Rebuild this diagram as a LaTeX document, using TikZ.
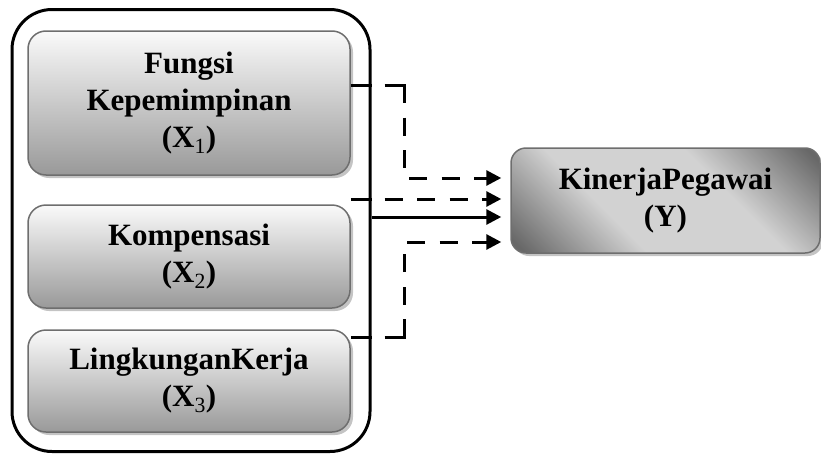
\documentclass[tikz,border=0pt]{standalone}
\usepackage{fontspec}
\setmainfont{Liberation Serif}
\usetikzlibrary{arrows.meta,calc,shadows}
\definecolor{boxborder}{HTML}{6E6E6E}
\definecolor{boxtop}{HTML}{FAFAFA}
\definecolor{boxbot}{HTML}{999999}
\definecolor{ydark}{HTML}{686868}
\definecolor{ylight}{HTML}{D2D2D2}
\definecolor{shadowgray}{HTML}{C4C4C4}
\pgfdeclareverticalshading{yshade}{100bp}{color(0bp)=(ydark); color(17bp)=(ydark); color(38bp)=(ylight); color(62bp)=(ylight); color(83bp)=(ydark); color(100bp)=(ydark)}
\newcommand{\subidx}[1]{\textsubscript{\mdseries #1}}
\begin{document}
\begin{tikzpicture}[x=1pt,y=-1pt,
  boxfont/.style={font=\fontsize{31}{37}\selectfont\bfseries},
  xbox/.style={draw=boxborder, line width=1.5pt, rounded corners=18pt,
    top color=boxtop, bottom color=boxbot, minimum width=322pt,
    align=center, boxfont, inner sep=0pt,
    drop shadow={shadow xshift=3pt, shadow yshift=-3pt, fill=shadowgray, opacity=1}},
  ybox/.style={draw=boxborder, line width=1.5pt, rounded corners=15pt,
    shading=yshade, shading angle=-45, minimum width=309pt, minimum height=105pt,
    align=center, boxfont, inner sep=0pt,
    drop shadow={shadow xshift=3pt, shadow yshift=-3pt, fill=shadowgray, opacity=1}},
  outerbox/.style={draw=black, line width=3pt, rounded corners=40pt},
  solidcon/.style={draw=black, line width=3pt},
  dashcon/.style={draw=black, line width=3pt, dash pattern=on 18pt off 14.5pt},
  tip/.style={-{Triangle[length=15pt,width=15pt]}}
]
\useasboundingbox (0,0) rectangle (821,455);
\node[outerbox, minimum width=358pt, minimum height=442pt] (outer) at (191,230.5) {};
\node[xbox, minimum height=144pt] (x1) at (189,103) {Fungsi\\Kepemimpinan\\(X\subidx{1})};
\node[xbox, minimum height=103pt] (x2) at (189,256.5) {Kompensasi\\(X\subidx{2})};
\node[xbox, minimum height=102pt] (x3) at (189,381) {LingkunganKerja\\(X\subidx{3})};
\node[ybox] (y) at (665.5,200.5) {KinerjaPegawai\\(Y)};

\coordinate (c1) at ($(outer.east |- 0,85)+(33,0)$);
\coordinate (c3) at ($(outer.east |- 0,337)+(33,0)$);
% X1
\draw[solidcon] (x1.east |- 0,85) -- (outer.east |- 0,85);
\draw[solidcon] ($(outer.east |- 0,85)+(13,0)$) -- ($(c1)+(1.5,0)$);
\draw[dashcon,tip] (c1) |- ($(y.west |- 0,178)+(-9,0)$);
% X2
\draw[solidcon] (x2.east |- 0,199) -- (outer.east |- 0,199);
\draw[dashcon,tip] ($(outer.east |- 0,199)+(13,0)$) -- ($(y.west |- 0,199)+(-9,0)$);
% simultaneous
\draw[solidcon,tip] (outer.east |- 0,217) -- ($(y.west |- 0,217)+(-9,0)$);
% X3
\draw[solidcon] (x3.east |- 0,337) -- (outer.east |- 0,337);
\draw[solidcon] ($(outer.east |- 0,337)+(13,0)$) -- ($(c3)+(1.5,0)$);
\draw[dashcon,tip] (c3) |- ($(y.west |- 0,242)+(-9,0)$);
\end{tikzpicture}
\end{document}
